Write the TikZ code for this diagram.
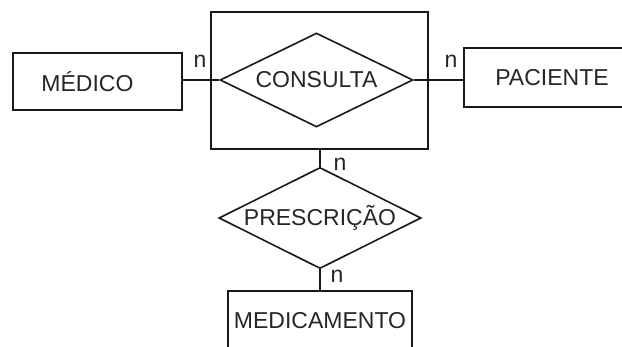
\documentclass[tikz,border=0pt]{standalone}
\usepackage{fontspec}
\setmainfont{Liberation Sans}
\usetikzlibrary{shapes.geometric}
\begin{document}
\begin{tikzpicture}[x=1pt,y=-1pt,
  every node/.style={font=\fontsize{23}{25}\selectfont, text=black!85},
  entity/.style={draw=black!90, line width=1.6pt, rectangle, inner sep=0pt},
  relation/.style={draw=black!90, line width=1.6pt, diamond, aspect=2, inner sep=0pt},
  aggbox/.style={draw=black!90, line width=1.6pt, rectangle, inner sep=0pt},
  link/.style={draw=black!90, line width=1.1pt},
  card/.style={inner sep=0pt}]
\useasboundingbox (0,0) rectangle (622,347);
\fill[white] (0,0) rectangle (622,347);
\node[aggbox, minimum width=217pt, minimum height=137pt] (agg) at (319.5,80.5) {};
\node[relation, minimum width=193pt, minimum height=94pt] (consulta) at (316.5,80) {CONSULTA};
\node[entity, minimum width=169pt, minimum height=57pt] (medico) at (97.5,81.5) {MÉDICO\kern20pt};
\node[entity, minimum width=176pt, minimum height=59pt] (paciente) at (552,77.5) {PACIENTE};
\node[relation, minimum width=194pt, minimum height=92pt] (presc) at (320,218) {PRESCRIÇÃO};
\node[entity, minimum width=184pt, minimum height=59pt] (medic) at (320,320.5) {MEDICAMENTO};
\draw[link] (consulta.west) -- (medico.east |- consulta.west);
\draw[link] (consulta.east) -- (paciente.west |- consulta.east);
\draw[link] (presc.north) -- (presc.north |- agg.south);
\draw[link] (presc.south) -- (presc.south |- medic.north);
\node[card] (n1) at (200,61) {n};
\node[card] (n2) at (451,61) {n};
\node[card] (n3) at (340,164) {n};
\node[card] (n4) at (337,276) {n};
\end{tikzpicture}
\end{document}
